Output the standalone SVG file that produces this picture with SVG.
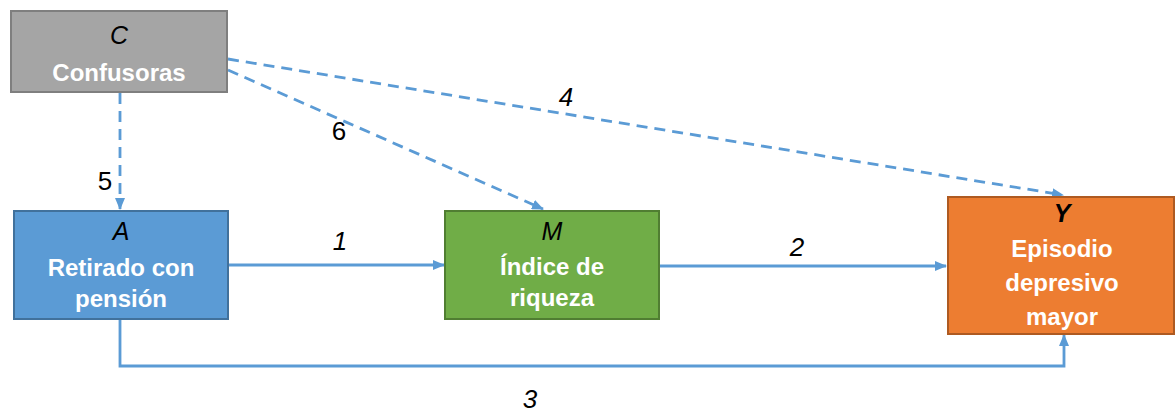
<svg xmlns="http://www.w3.org/2000/svg" width="1176" height="413" viewBox="0 0 1176 413">
<style>
.lbl{font-family:"Liberation Sans",Arial,sans-serif;font-weight:bold;font-size:24px;fill:#fff;text-anchor:middle}
.var{font-family:"Liberation Sans",Arial,sans-serif;font-style:italic;font-size:25px;fill:#000;text-anchor:middle}
.num{font-family:"Liberation Sans",Arial,sans-serif;font-size:26px;fill:#000;text-anchor:middle}
.ln{fill:none;stroke:#5B9BD5;stroke-width:2.8}
.dash{stroke-dasharray:11 7}
</style>
<defs>
<marker id="ah" markerUnits="userSpaceOnUse" markerWidth="12" markerHeight="10" refX="11" refY="5" orient="auto">
<path d="M0,0 L12,5 L0,10 Z" fill="#5B9BD5"/>
</marker>
</defs>
<g id="connectors">
<path class="ln dash" d="M120,93 L120,209" marker-end="url(#ah)"/>
<path class="ln dash" d="M228,70 L543,209" marker-end="url(#ah)"/>
<path class="ln dash" d="M228,59 L1063,195" marker-end="url(#ah)"/>
<path class="ln" d="M229,265 L444,265" marker-end="url(#ah)"/>
<path class="ln" d="M660,266 L946,266" marker-end="url(#ah)"/>
<path class="ln" d="M120,320 L120,366 L1064,366 L1064,335" marker-end="url(#ah)"/>
<text class="num" x="105" y="190">5</text>
<text class="num" x="339" y="140">6</text>
<text class="num" style="font-style:italic" x="566" y="106">4</text>
<text class="num" style="font-style:italic" x="340" y="250">1</text>
<text class="num" style="font-style:italic" x="797" y="256">2</text>
<text class="num" style="font-style:italic" x="530" y="408">3</text>
</g>
<g id="C">
<rect x="11" y="11" width="216" height="81" fill="#A5A5A5" stroke="#7F7F7F" stroke-width="2"/>
<text class="var" x="119" y="44">C</text>
<text class="lbl" x="119" y="81">Confusoras</text>
</g>
<g id="A">
<rect x="14" y="211" width="214" height="108" fill="#5B9BD5" stroke="#41719C" stroke-width="2"/>
<text class="var" x="121" y="240">A</text>
<text class="lbl" x="121" y="276">Retirado con</text>
<text class="lbl" x="121" y="307">pensión</text>
</g>
<g id="M">
<rect x="445" y="211" width="214" height="108" fill="#70AD47" stroke="#507E32" stroke-width="2"/>
<text class="var" x="552" y="240">M</text>
<text class="lbl" x="552" y="275">Índice de</text>
<text class="lbl" x="552" y="306">riqueza</text>
</g>
<g id="Y">
<rect x="948" y="197" width="226" height="137" fill="#ED7D31" stroke="#AE5A21" stroke-width="2"/>
<text class="var" style="font-weight:bold" x="1062" y="222">Y</text>
<text class="lbl" x="1062" y="257">Episodio</text>
<text class="lbl" x="1062" y="291">depresivo</text>
<text class="lbl" x="1062" y="325">mayor</text>
</g>
</svg>
